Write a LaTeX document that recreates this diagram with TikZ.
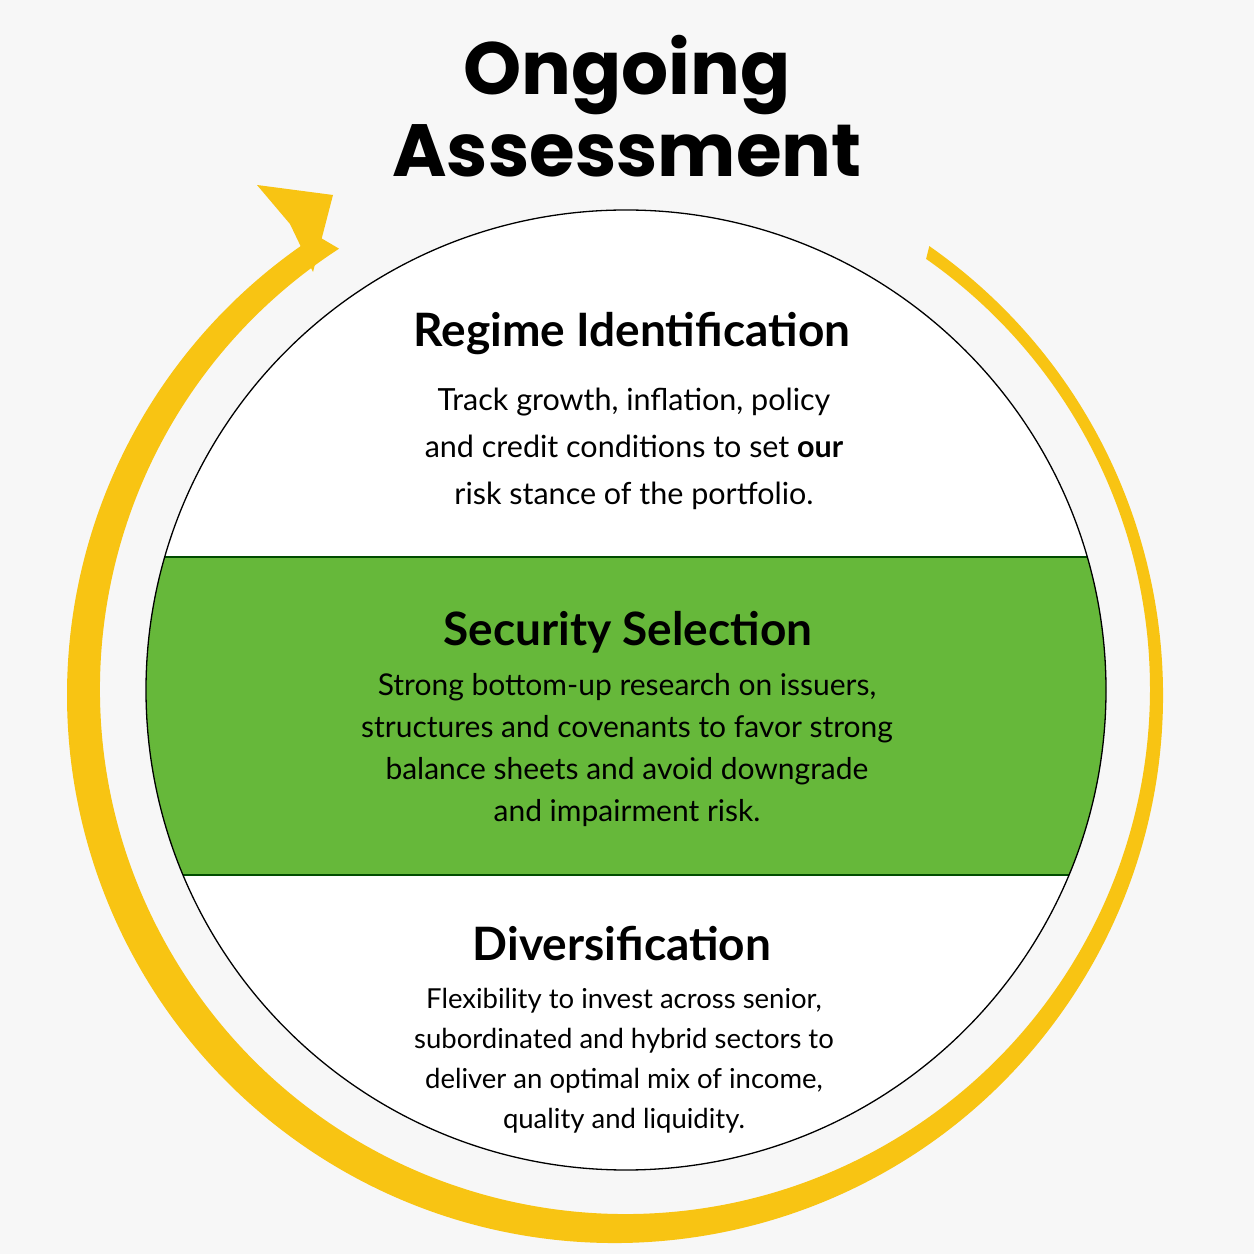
\documentclass[tikz,border=0pt]{standalone}
\usepackage{fontspec}
\usetikzlibrary{calc}
\setmainfont{Lato}
\newfontfamily\titlefont{Poppins}
\definecolor{ygold}{HTML}{F8C413}
\definecolor{sgreen}{HTML}{66B83A}
\begin{document}
\begin{tikzpicture}[x=1pt,y=1pt,
  head/.style={font=\fontsize{46}{50}\selectfont\bfseries, inner sep=0},
  body/.style={font=\fontsize{30.5}{47}\selectfont, align=center, inner sep=0}]
\useasboundingbox[fill=white!97!black] (0,0) rectangle (1254,1254);
\coordinate (c) at (626,564);
\begin{scope}
\clip (c) circle (480);
\fill[white] (c) circle (480);
\fill[sgreen] (100,379) rectangle (1150,697);
\draw[line width=1.2pt,black!70!green] (100,379) -- (1150,379) (100,697) -- (1150,697);
\end{scope}
\draw[line width=1.3pt] (c) circle (480);
% yellow arc
\fill[ygold] (615,559) ++(55:548) arc[start angle=55,end angle=-237,radius=548]
  -- ($(625,565)+(-237:525)$) arc[start angle=-237,end angle=55,radius=525] -- cycle;
\fill[ygold] (333,1059) -- (257,1069) -- (290,1030) -- (313,982) -- cycle;
\node[font=\fontsize{74}{82}\selectfont\titlefont\bfseries, align=center, inner sep=0] (title) at (627,1148) {Ongoing\\Assessment};
\node[head] (h1) at (632,920) {Regime Identification};
\node[body] (b1) at (634,805) {Track growth, inflation, policy\\and credit conditions to set \textbf{our}\\risk stance of the portfolio.};
\node[head] (h2) at (628,622) {Security Selection};
\node[body, font=\fontsize{30}{42}\selectfont] (b2) at (627,504) {Strong bottom-up research on issuers,\\structures and covenants to favor strong\\balance sheets and avoid downgrade\\and impairment risk.};
\node[head] (h3) at (622,310) {Diversification};
\node[body, font=\fontsize{27.5}{40}\selectfont] (b3) at (624,193) {Flexibility to invest across senior,\\subordinated and hybrid sectors to\\deliver an optimal mix of income,\\quality and liquidity.};
\end{tikzpicture}
\end{document}
